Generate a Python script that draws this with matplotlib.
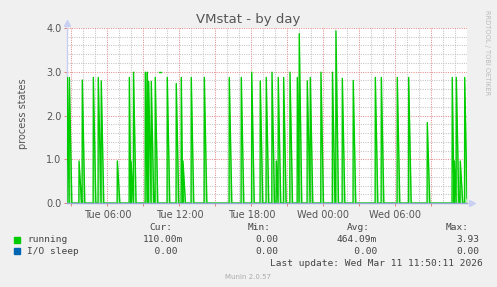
import numpy as np
import matplotlib
matplotlib.use("Agg")
import matplotlib.pyplot as plt
from matplotlib.patches import Rectangle

# time axis in hours from Tue 00:00
x_start = 2.625
x_end = 35.96

# spikes of the "running" series (hour, value)
spike_hours = [2.65, 2.82, 3.63, 3.90, 4.82, 5.23, 5.48, 6.82, 7.82, 7.96,
               8.17, 9.15, 9.32, 9.43, 9.65, 9.98, 10.98, 11.73, 12.15, 12.29,
               12.98, 14.07, 16.15, 17.15, 18.02, 18.73, 19.23, 19.71, 20.07, 20.23,
               20.68, 21.21, 21.82, 21.98, 22.65, 22.90, 23.79, 24.75, 25.04, 25.57,
               26.48, 28.32, 28.82, 30.15, 31.10, 32.65, 34.73, 34.90, 35.07, 35.40,
               35.77]
spike_vals = [2.87, 2.87, 0.96, 2.81, 2.87, 2.87, 2.79, 0.96, 2.87, 0.96,
              2.99, 2.99, 2.99, 2.78, 2.78, 2.87, 2.87, 2.73, 2.87, 0.96,
              2.87, 2.87, 2.87, 2.87, 2.99, 2.79, 2.87, 2.99, 0.96, 2.87,
              2.87, 2.99, 2.87, 3.87, 2.79, 2.87, 2.99, 2.99, 3.93, 2.85,
              2.80, 2.87, 2.87, 2.87, 2.87, 1.84, 2.87, 0.96, 2.87, 0.96,
              2.87]
last_running = 0.11

# short isolated piece at 3.0
dash_hours = [10.30, 10.47]
dash_vals = [3.0, 3.0]

io_hours = [x_start, x_end]
io_vals = [0.0, 0.0]

tick_hours = [6, 12, 18, 24, 30]
tick_labels = ["Tue 06:00", "Tue 12:00", "Tue 18:00", "Wed 00:00", "Wed 06:00"]

legend_names = ["running", "I/O sleep"]
legend_colors = ["#00cc00", "#0066b3"]
cur_txt = ["110.00m", "  0.00"]
min_txt = ["0.00", "0.00"]
avg_txt = ["464.09m", "   0.00"]
max_txt = ["3.93", "0.00"]

W, H = 497, 287


def fx(px):
    return px / W


def fy(py):
    return 1 - py / H


def build_line(hours, vals, end_val):
    step = 5 / 60
    xs, ys = [x_start], [0.0]
    for i, (t, v) in enumerate(zip(hours, vals)):
        if t - xs[-1] > step * 0.6:
            xs.append(t - step * 0.2)
            ys.append(0.0)
        xs.append(t)
        ys.append(v)
        nxt = hours[i + 1] if i + 1 < len(hours) else x_end
        if nxt - t > step * 3.0:
            xs.append(t + step * 2.5)
            ys.append(0.0)
    xs.append(x_end)
    ys.append(end_val)
    return xs, ys


fig = plt.figure(figsize=(W / 100, H / 100), dpi=100, facecolor="#f0f0f0")
ax = fig.add_axes([fx(67), fy(203), 400 / W, 175 / H])
ax.set_facecolor("white")
ax.set_xlim(x_start, x_end)
ax.set_ylim(0, 4)

# grid
dot = (0, (1, 1.2))
for h in np.arange(3, 36, 1):
    if h % 3 == 0:
        ax.axvline(h, color="#e89090", lw=0.75, ls=dot, zorder=0)
    else:
        ax.axvline(h, color="#c4c4c4", lw=0.75, ls=dot, zorder=0)
for v in np.arange(0.2, 4.01, 0.2):
    if abs(v - round(v)) < 1e-6:
        ax.axhline(v, color="#e89090", lw=0.75, ls=dot, zorder=0)
    else:
        ax.axhline(v, color="#c4c4c4", lw=0.75, ls=dot, zorder=0)

xs, ys = build_line(spike_hours, spike_vals, last_running)
ax.plot(io_hours, io_vals, color=legend_colors[1], lw=0.8, zorder=1)
ax.fill_between(xs, ys, 0, color=legend_colors[0], alpha=0.3, lw=0, zorder=2)
ax.plot(xs, ys, color=legend_colors[0], lw=1.0, zorder=3)
ax.plot(dash_hours, dash_vals, color=legend_colors[0], lw=1.0, zorder=3)

for s in ["top", "right"]:
    ax.spines[s].set_visible(False)
ax.spines["left"].set_color("#c8cff0")
ax.spines["bottom"].set_color("#9aa6d6")
ax.spines["left"].set_linewidth(1.0)
ax.spines["bottom"].set_linewidth(1.0)
ax.spines["bottom"].set_zorder(4)

# axis arrows
ax.plot([x_start], [4.12], marker="^", ms=4.5, color="#c8cff0", clip_on=False)
ax.plot([x_end + 0.45], [0], marker=">", ms=4.5, color="#c8cff0", clip_on=False)

ax.set_xticks(np.arange(3, 36, 3))
ax.set_xticklabels([tick_labels[tick_hours.index(h)] if h in tick_hours else ""
                    for h in np.arange(3, 36, 3)])
ax.set_xticks(np.arange(3, 36, 1), minor=True)
ax.set_yticks([0, 1, 2, 3, 4])
ax.set_yticklabels(["0.0", "1.0", "2.0", "3.0", "4.0"])
ax.tick_params(axis="both", which="major", length=2, width=0.7, color="#e08080",
               labelsize=7, labelcolor="#555555", pad=2)
ax.tick_params(axis="x", which="minor", length=0)
ax.tick_params(axis="x", which="major", direction="out", pad=3)

fig.text(fx(248), fy(19), "VMstat - by day", ha="center", va="center",
         fontsize=9.5, color="#555555")
fig.text(fx(23), fy(114), "process states", ha="center", va="center",
         rotation=90, fontsize=7, color="#555555")
fig.text(fx(487), fy(53), "RRDTOOL / TOBI OETIKER", ha="center", va="center",
         rotation=270, fontsize=4.8, color="#bbbbbb")

mono = dict(family="DejaVu Sans Mono", fontsize=6.8, color="#444444", va="center")
fig.text(fx(149), fy(228), "Cur:", **mono)
fig.text(fx(248), fy(228), "Min:", **mono)
fig.text(fx(347), fy(228), "Avg:", **mono)
fig.text(fx(446), fy(228), "Max:", **mono)
for i, name in enumerate(legend_names):
    yy = 240 + i * 11
    fig.add_artist(Rectangle((fx(14), fy(yy + 3)), 6 / W, 6 / H,
                             transform=fig.transFigure, color=legend_colors[i]))
    fig.text(fx(27), fy(yy), name, **mono)
    fig.text(fx(143), fy(yy), cur_txt[i], **mono)
    fig.text(fx(255), fy(yy), min_txt[i], **mono)
    fig.text(fx(337), fy(yy), avg_txt[i], **mono)
    fig.text(fx(456), fy(yy), max_txt[i], **mono)
fig.text(fx(483), fy(263), "Last update: Wed Mar 11 11:50:11 2026",
         ha="right", **mono)
fig.text(fx(248), fy(277), "Munin 2.0.57", ha="center", va="center",
         fontsize=5, color="#aaaaaa")

fig.savefig("out.png", dpi=100, facecolor=fig.get_facecolor())
